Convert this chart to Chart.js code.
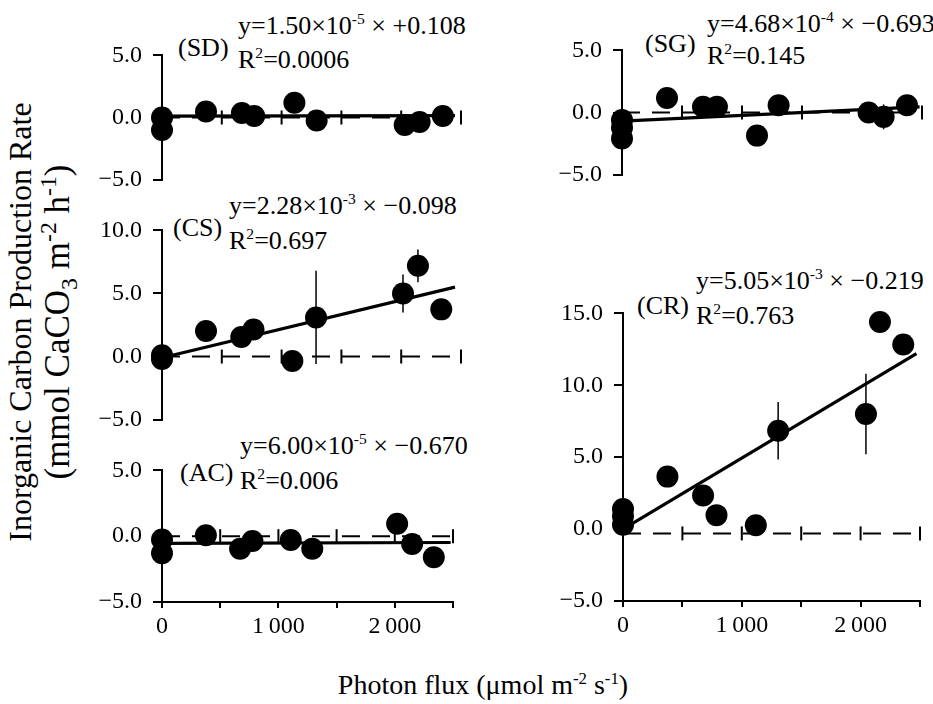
<!DOCTYPE html>
<html>
<head>
<meta charset="utf-8">
<script src="https://cdn.jsdelivr.net/npm/chart.js@4.4.1/dist/chart.umd.min.js"></script>
<style>
  body { margin: 0; background: #fff; }
  #page { position: relative; width: 933px; height: 704px; overflow: hidden;
          font-family: "Liberation Serif", "Times New Roman", serif; color: #000; }
  .panel { position: absolute; }
  .txt { position: absolute; white-space: nowrap; font-size: 26px; line-height: 26px; }
  sup, sub { font-size: 0.6em; line-height: 0; }
  #ytitle { position: absolute; left: 39px; top: 322px; width: 600px; text-align: center;
            line-height: 37px; white-space: nowrap;
            transform: translate(-50%, -50%) rotate(-90deg); }
  #ytitle .l1 { font-size: 32px; display: block; }
  #ytitle .l2 { font-size: 35px; display: block; }
  #ytitle .l2 sup, #ytitle .l2 sub { font-size: 0.68em; }
  #xtitle { position: absolute; left: 483px; top: 671px; transform: translateX(-50%);
            font-size: 28px; line-height: 28px; white-space: nowrap; }
</style>
</head>
<body>
<div id="page">
  <div id="ytitle"><span class="l1">Inorganic Carbon Production Rate</span><span class="l2">(mmol CaCO<sub>3</sub> m<sup>-2</sup> h<sup>-1</sup>)</span></div>
  <div id="xtitle">Photon flux (μmol m<sup>-2</sup> s<sup>-1</sup>)</div>

  <div class="txt" style="left:178px; top:35px">(SD)</div>
  <div class="txt" style="left:238px; top:13px">y=1.50×10<sup>-5</sup> × +0.108</div>
  <div class="txt" style="left:238px; top:47px">R<sup>2</sup>=0.0006</div>

  <div class="txt" style="left:645px; top:31px">(SG)</div>
  <div class="txt" style="left:707px; top:11px">y=4.68×10<sup>-4</sup> × −0.693</div>
  <div class="txt" style="left:707px; top:43px">R<sup>2</sup>=0.145</div>

  <div class="txt" style="left:173px; top:215px">(CS)</div>
  <div class="txt" style="left:229px; top:193px">y=2.28×10<sup>-3</sup> × −0.098</div>
  <div class="txt" style="left:229px; top:228px">R<sup>2</sup>=0.697</div>

  <div class="txt" style="left:180px; top:460px">(AC)</div>
  <div class="txt" style="left:240px; top:433px">y=6.00×10<sup>-5</sup> × −0.670</div>
  <div class="txt" style="left:240px; top:468px">R<sup>2</sup>=0.006</div>

  <div class="txt" style="left:637px; top:293px">(CR)</div>
  <div class="txt" style="left:696px; top:268px">y=5.05×10<sup>-3</sup> × −0.219</div>
  <div class="txt" style="left:696px; top:303px">R<sup>2</sup>=0.763</div>
</div>

<script>
// Photon flux (x) and inorganic carbon production rate (y) per community
const sdFlux  = [0, 0, 368, 668, 771, 1107, 1293, 2029, 2154, 2348];
const sdRate  = [0.0, -1.0, 0.48, 0.36, 0.12, 1.19, -0.24, -0.6, -0.36, 0.12];
const sdError = [0, 0, 0, 0, 0, 0, 0, 0, 0, 0];

const sgFlux  = [0, 0, 0, 375, 675, 791, 1125, 1305, 2055, 2180, 2375];
const sgRate  = [-0.6, -1.2, -2.1, 1.16, 0.47, 0.47, -1.86, 0.58, 0.0, -0.35, 0.58];
const sgError = [0, 0, 0, 0, 0, 0, 0, 0, 0, 1.0, 0];

const csFlux  = [0, 0, 368, 663, 765, 1090, 1288, 2015, 2140, 2335];
const csRate  = [0.1, -0.2, 2.03, 1.55, 2.14, -0.36, 3.1, 5.0, 7.19, 3.74];
const csError = [0, 0, 0, 0, 0, 0, 3.7, 1.5, 1.3, 0];

const acFlux  = [0, 0, 377, 671, 777, 1106, 1291, 2020, 2149, 2335];
const acRate  = [-0.25, -1.3, 0.07, -0.95, -0.36, -0.29, -0.95, 0.95, -0.6, -1.6];
const acError = [0, 0, 0, 0, 0, 0, 0, 0, 0, 0];

const crFlux  = [0, 0, 0, 374, 674, 787, 1118, 1306, 2045, 2163, 2359];
const crRate  = [1.4, 0.9, 0.3, 3.65, 2.33, 0.97, 0.27, 6.84, 8.0, 14.4, 12.84];
const crError = [0, 0, 0, 0.3, 0, 0, 0, 2.0, 2.8, 0, 0.7];

// regression line end points
const sdFitFlux = [0, 2450], sdFitRate = [0.11, 0.15];
const sgFitFlux = [0, 2480], sgFitRate = [-0.69, 0.45];
const csFitFlux = [0, 2450], csFitRate = [-0.1, 5.5];
const acFitFlux = [0, 2480], acFitRate = [-0.55, -0.48];
const crFitFlux = [0, 2470], crFitRate = [0.0, 12.2];

// dashed reference line and its cross marks
const refFlux = [0, 2500];
const refTicks = [500, 1000, 1500, 2000, 2500];

const toPoints = (xs, ys) => xs.map((x, i) => ({ x: x, y: ys[i] }));

// vertical error bars drawn through the y scale
const errorBars = {
    id: 'errorBars',
    beforeDatasetsDraw(chart) {
        const ctx = chart.ctx;
        const yScale = chart.scales.y;
        chart.data.datasets.forEach((ds, i) => {
            if (!ds.errors) return;
            const meta = chart.getDatasetMeta(i);
            ctx.save();
            ctx.strokeStyle = '#000';
            ctx.lineWidth = 1.5;
            ds.errors.forEach((e, j) => {
                if (!e) return;
                const pt = meta.data[j];
                const v = ds.data[j].y;
                ctx.beginPath();
                ctx.moveTo(pt.x, yScale.getPixelForValue(v + e));
                ctx.lineTo(pt.x, yScale.getPixelForValue(v - e));
                ctx.stroke();
            });
            ctx.restore();
        });
    }
};

const font = { family: '"Liberation Serif", "Times New Roman", serif', size: 24 };

function fmtY(v) {
    return (v < 0 ? '\u2212' : '') + Math.abs(v).toFixed(1);
}
function fmtX(v) {
    if (v % 1000 !== 0) return '';
    return v === 0 ? '0' : (v / 1000) + '\u2009000';
}

// layout of the five panels
const panels = [
    { flux: sdFlux, rate: sdRate, err: sdError, fitX: sdFitFlux, fitY: sdFitRate, ref: 0,
      yMin: -5, yMax: 5, showX: false, left: 40, top: 30, w: 440, h: 175, yW: 122,
      pad: { top: 18, right: 19, bottom: 17 } },
    { flux: csFlux, rate: csRate, err: csError, fitX: csFitFlux, fitY: csFitRate, ref: 0,
      yMin: -5, yMax: 10, showX: false, left: 40, top: 205, w: 440, h: 240, yW: 122,
      pad: { top: 17, right: 19, bottom: 15 } },
    { flux: acFlux, rate: acRate, err: acError, fitX: acFitFlux, fitY: acFitRate, ref: 0,
      yMin: -5, yMax: 5, showX: true, left: 40, top: 445, w: 440, h: 200, yW: 122, xH: 43,
      pad: { top: 18, right: 27, bottom: 0 } },
    { flux: sgFlux, rate: sgRate, err: sgError, fitX: sgFitFlux, fitY: sgFitRate, ref: 0,
      yMin: -5, yMax: 5, showX: false, left: 500, top: 25, w: 433, h: 175, yW: 122,
      pad: { top: 18, right: 11, bottom: 13 } },
    { flux: crFlux, rate: crRate, err: crError, fitX: crFitFlux, fitY: crFitRate, ref: -0.3,
      yMin: -5, yMax: 15, showX: true, left: 500, top: 288, w: 433, h: 357, yW: 123, xH: 44,
      pad: { top: 17, right: 13, bottom: 0 } }
];

function buildPanel(p) {
    const wrap = document.createElement('div');
    wrap.className = 'panel';
    wrap.style.left = p.left + 'px';
    wrap.style.top = p.top + 'px';
    const canvas = document.createElement('canvas');
    canvas.width = p.w;
    canvas.height = p.h;
    wrap.appendChild(canvas);
    document.getElementById('page').appendChild(wrap);

    new Chart(canvas, {
        type: 'scatter',
        data: {
            datasets: [
                { data: toPoints(p.flux, p.rate), errors: p.err, pointRadius: 11,
                  backgroundColor: '#000', borderColor: '#000', borderWidth: 0, clip: false },
                { data: toPoints(p.fitX, p.fitY), showLine: true, borderColor: '#000',
                  borderWidth: 3.2, pointRadius: 0, clip: false },
                { data: toPoints(refFlux, [p.ref, p.ref]), showLine: true, borderColor: '#000',
                  borderWidth: 2, borderDash: [18, 12], pointRadius: 0, clip: false },
                { data: refTicks.map(x => ({ x: x, y: p.ref })), pointStyle: 'line', rotation: 90,
                  pointRadius: 7, borderWidth: 2, borderColor: '#000', clip: false }
            ]
        },
        options: {
            responsive: false,
            animation: false,
            events: [],
            layout: { padding: { left: 0, top: p.pad.top, right: p.pad.right, bottom: p.pad.bottom } },
            plugins: { legend: { display: false }, tooltip: { enabled: false } },
            scales: {
                x: {
                    type: 'linear',
                    min: 0,
                    max: 2500,
                    display: p.showX,
                    afterFit: s => { if (p.xH) s.height = p.xH; },
                    ticks: { stepSize: 500, color: '#000', font: font, padding: 4,
                             maxRotation: 0, autoSkip: false, callback: fmtX },
                    grid: { drawOnChartArea: false, color: '#000', lineWidth: 2, tickLength: 6 },
                    border: { display: true, color: '#000', width: 2 }
                },
                y: {
                    min: p.yMin,
                    max: p.yMax,
                    afterFit: s => { s.width = p.yW; },
                    ticks: { stepSize: 5, color: '#000', font: font, padding: 11, callback: fmtY },
                    grid: { drawOnChartArea: false, color: '#000', lineWidth: 2, tickLength: 9 },
                    border: { display: true, color: '#000', width: 2 }
                }
            }
        },
        plugins: [errorBars]
    });
}

panels.forEach(buildPanel);
</script>
</body>
</html>
